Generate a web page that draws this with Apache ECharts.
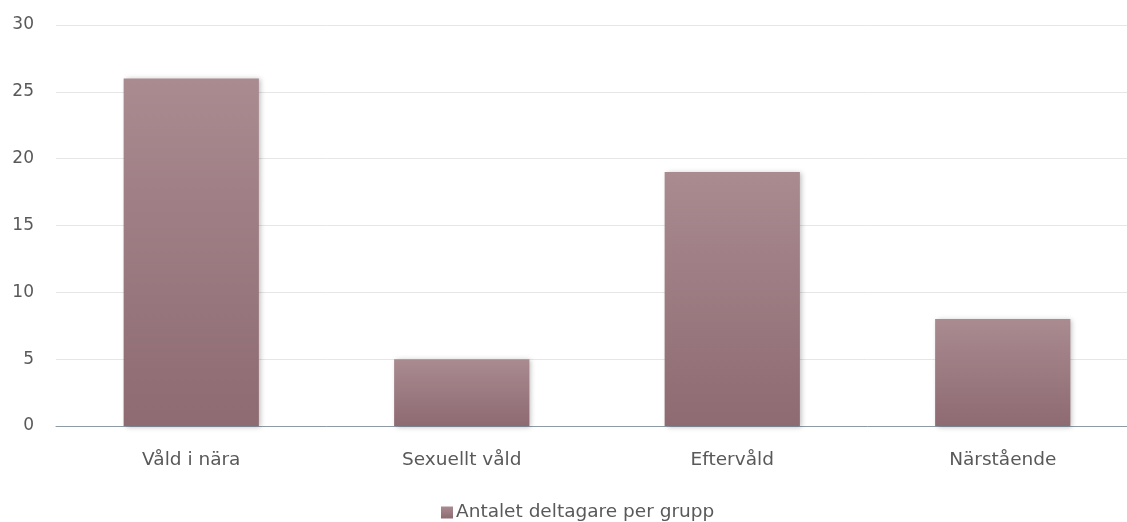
<!DOCTYPE html>
<html><head><meta charset="utf-8">
<script src="https://cdn.jsdelivr.net/npm/echarts@6/dist/echarts.min.js"></script>
<style>html,body{margin:0;padding:0;background:#fff;overflow:hidden;width:1127px;height:522px}#c{width:1140px;height:522px}</style>
</head><body><div id="c"></div>
<script>
const categories = ["Våld i nära", "Sexuellt våld", "Eftervåld", "Närstående"];
const values = [26, 5, 19, 8];
const seriesName = "Antalet deltagare per grupp";
const yTicks = [0, 5, 10, 15, 20, 25, 30];

const chart = echarts.init(document.getElementById('c'));
const font = "DejaVu Sans";
chart.setOption({
  animation: false,
  grid: { left: 56, top: 25, right: 2, bottom: 96, containLabel: false },
  legend: {
    top: 498, left: 436, itemWidth: 12, itemHeight: 12, itemGap: 6,
    icon: 'rect',
    textStyle: { fontFamily: font, fontSize: 18.5, color: '#595959', padding: [0, 0, 0, -2] },
    data: [seriesName]
  },
  xAxis: {
    type: 'category', data: categories,
    axisLine: { lineStyle: { color: '#8e9aa3', width: 1 } },
    axisTick: { show: false },
    axisLabel: { fontFamily: font, fontSize: 18.5, color: '#595959', margin: 25 }
  },
  yAxis: {
    type: 'value', min: yTicks[0], max: yTicks[yTicks.length - 1], interval: 5,
    axisLine: { show: false }, axisTick: { show: false },
    axisLabel: { fontFamily: font, fontSize: 17, color: '#595959', margin: 22 },
    splitLine: { lineStyle: { color: '#e6e6e6', width: 1 } }
  },
  series: [{
    name: seriesName, type: 'bar', data: values, barWidth: '50%',
    itemStyle: {
      color: new echarts.graphic.LinearGradient(0, 0, 0, 1, [
        { offset: 0, color: '#a98b90' }, { offset: 1, color: '#8e6a72' }
      ]),
      shadowColor: 'rgba(0,0,0,0.25)', shadowBlur: 5, shadowOffsetX: 2, shadowOffsetY: 1
    }
  }]
});
</script></body></html>
